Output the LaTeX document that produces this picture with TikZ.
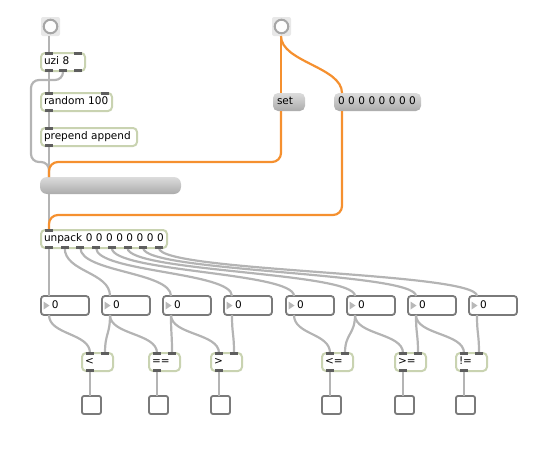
\documentclass[tikz,border=0pt]{standalone}
\usepackage{fontspec}
\newfontfamily\maxfont{DejaVu Sans}
\usetikzlibrary{calc}
\definecolor{objrim}{HTML}{C9D3B1}
\definecolor{tabgray}{HTML}{5E5E5E}
\definecolor{cord}{HTML}{B4B4B4}
\definecolor{hotcord}{HTML}{F5902F}
\definecolor{numrim}{HTML}{7A7A7A}
\definecolor{numtri}{HTML}{B8B8B8}
\definecolor{msgtop}{HTML}{DCDCDC}
\definecolor{msgbot}{HTML}{ABABAB}
\definecolor{bangbg}{HTML}{E8E8E8}
\definecolor{bangring}{HTML}{A6A6A6}
\tikzset{
  maxtext/.style={font=\maxfont\fontsize{10.5}{12}\selectfont, text height=8pt, text depth=2.5pt},
  objbox/.style={rectangle, rounded corners=4pt, draw=objrim, line width=2pt, fill=white,
                 anchor=north west, outer sep=0pt, inner xsep=3pt, inner ysep=0pt,
                 text width=#1, align=left, minimum height=18pt, maxtext},
  msgbox/.style={rectangle, rounded corners=5pt, top color=msgtop, bottom color=msgbot,
                 anchor=north west, outer sep=0pt, inner xsep=4pt, inner ysep=0pt,
                 text width=#1, align=left, minimum height=18pt, maxtext},
  numbox/.style={rectangle, rounded corners=3pt, draw=numrim, line width=1.8pt, fill=white,
                 anchor=north west, outer sep=0pt, inner xsep=11pt, inner ysep=0pt,
                 text width=26pt, align=left, minimum height=19pt, maxtext},
  numtip/.style={fill=numtri},
  togglebox/.style={rectangle, rounded corners=2pt, draw=numrim, line width=1.8pt, fill=white,
                 anchor=north west, outer sep=0pt, inner sep=0pt, minimum width=19pt, minimum height=18pt},
  bangbox/.style={rectangle, rounded corners=2pt, fill=bangbg, anchor=north west, outer sep=0pt,
                 inner sep=0pt, minimum size=19pt,
                 path picture={\draw[bangring, line width=2pt, fill=white!92!bangbg]
                   (path picture bounding box.center) circle[radius=6.8pt];}},
  tabmark/.style={fill=tabgray},
  cordline/.style={draw=cord, line width=2.2pt},
  hotline/.style={draw=hotcord, line width=2.2pt},
}
\begin{document}
\begin{tikzpicture}[x=1pt, y=-1pt]
  \useasboundingbox (0,0) rectangle (555,450);
  % objects
  \node[bangbox] (btnL) at (41,17) {};
  \node[bangbox] (btnR) at (272,17) {};
  \node[objbox=38pt] (uzi) at (41,53) {uzi 8};
  \node[objbox=65pt] (rnd) at (41,93) {random 100};
  \node[objbox=90pt] (prep) at (41,128) {prepend append};
  \node[msgbox=133pt, minimum height=17pt, rounded corners=7pt] (bar) at (40,177) {};
  \node[msgbox=24pt] (setmsg) at (273,93) {set};
  \node[msgbox=79pt] (zeros) at (334,93) {0 0 0 0 0 0 0 0};
  \node[objbox=120pt] (unpk) at (41,230) {unpack 0 0 0 0 0 0 0 0};
  \foreach \i/\x in {1/41, 2/102, 3/163, 4/224, 5/286, 6/347, 7/408, 8/469} {
    \node[numbox] (nb\i) at (\x,296) {0};
    \fill[numtip] ($(nb\i.west)+(2.5,-4)$) -- ++(0,8) -- ++(6,-4) -- cycle;
  }
  \foreach \n/\x/\lab in {cmpLt/82/{<}, cmpEq/149/{==}, cmpGt/211/{>},
                          cmpLe/322/{<=}, cmpGe/395/{>=}, cmpNe/456/{!=}}
    \node[objbox=25pt] (\n) at (\x,353) {\lab};
  \foreach \n/\x in {tg1/82, tg2/149, tg3/211, tg4/322, tg5/395, tg6/456}
    \node[togglebox] (\n) at (\x,396) {};

  % patch cords
  \draw[cordline] ($(btnL.south west)+(8,0)$) -- ($(uzi.north west)+(8,0)$);
  \draw[cordline] ($(uzi.south west)+(8,0)$) -- ($(rnd.north west)+(8,0)$);
  \draw[cordline] ($(rnd.south west)+(8,0)$) -- ($(prep.north west)+(8,0)$);
  \draw[cordline] ($(prep.south west)+(8,0)$) -- ($(bar.north west)+(9,0)$);
  \draw[cordline, rounded corners=8pt] ($(uzi.south west)+(22,0)$) -- ++(0,9) -- ++(-32,0)
    -- ++(0,82) -| ($(bar.north west)+(9,0)$);
  \draw[cordline] ($(bar.south west)+(9,0)$) -- ($(unpk.north west)+(8,0)$);
  \draw[hotline] ($(btnR.south west)+(9,0)$) -- ($(setmsg.north west)+(8,0)$);
  \draw[hotline] ($(btnR.south west)+(9,0)$) .. controls +(0,26) and +(0,-26) .. ($(zeros.north west)+(8,0)$);
  \draw[hotline, rounded corners=9pt] ($(setmsg.south west)+(8,0)$) -- ++(0,51) -| ($(bar.north west)+(9,0)$);
  \draw[hotline, rounded corners=9pt] ($(zeros.south west)+(8,0)$) -- ++(0,104) -| ($(unpk.north west)+(8,0)$);
  \foreach \i in {1,...,8}
    \draw[cordline] ($(unpk.south west)+({8+(\i-1)*110/7},0)$) .. controls +(0,24) and +(0,-24)
      .. ($(nb\i.north west)+(8,0)$);
  \foreach \s/\t/\dx in {nb1/cmpLt/8, nb2/cmpLt/23, nb2/cmpEq/8, nb3/cmpEq/23, nb3/cmpGt/8, nb4/cmpGt/23,
                         nb5/cmpLe/8, nb6/cmpLe/23, nb6/cmpGe/8, nb7/cmpGe/23, nb7/cmpNe/8, nb8/cmpNe/23}
    \draw[cordline] ($(\s.south west)+(8,0)$) .. controls +(0,20) and +(0,-20) .. ($(\t.north west)+(\dx,0)$);
  \foreach \c/\t in {cmpLt/tg1, cmpEq/tg2, cmpGt/tg3, cmpLe/tg4, cmpGe/tg5, cmpNe/tg6}
    \draw[cordline] ($(\c.south west)+(8,0)$) -- ($(\t.north west)+(8,0)$);

  % inlets and outlets
  \foreach \n/\dx in {uzi/8, uzi/37, rnd/8, rnd/64, prep/8, unpk/8, cmpLt/8, cmpLt/23, cmpEq/8, cmpEq/23,
                      cmpGt/8, cmpGt/23, cmpLe/8, cmpLe/23, cmpGe/8, cmpGe/23, cmpNe/8, cmpNe/23}
    \fill[tabmark] ($(\n.north west)+(\dx-4,-1)$) rectangle ++(8,3);
  \foreach \n/\dx in {uzi/8, uzi/22, uzi/37, rnd/8, prep/8, cmpLt/8, cmpEq/8, cmpGt/8, cmpLe/8, cmpGe/8, cmpNe/8}
    \fill[tabmark] ($(\n.south west)+(\dx-4,-2)$) rectangle ++(8,3);
  \foreach \i in {1,...,8}
    \fill[tabmark] ($(unpk.south west)+({4+(\i-1)*110/7},-2)$) rectangle ++(8,3);
\end{tikzpicture}
\end{document}
